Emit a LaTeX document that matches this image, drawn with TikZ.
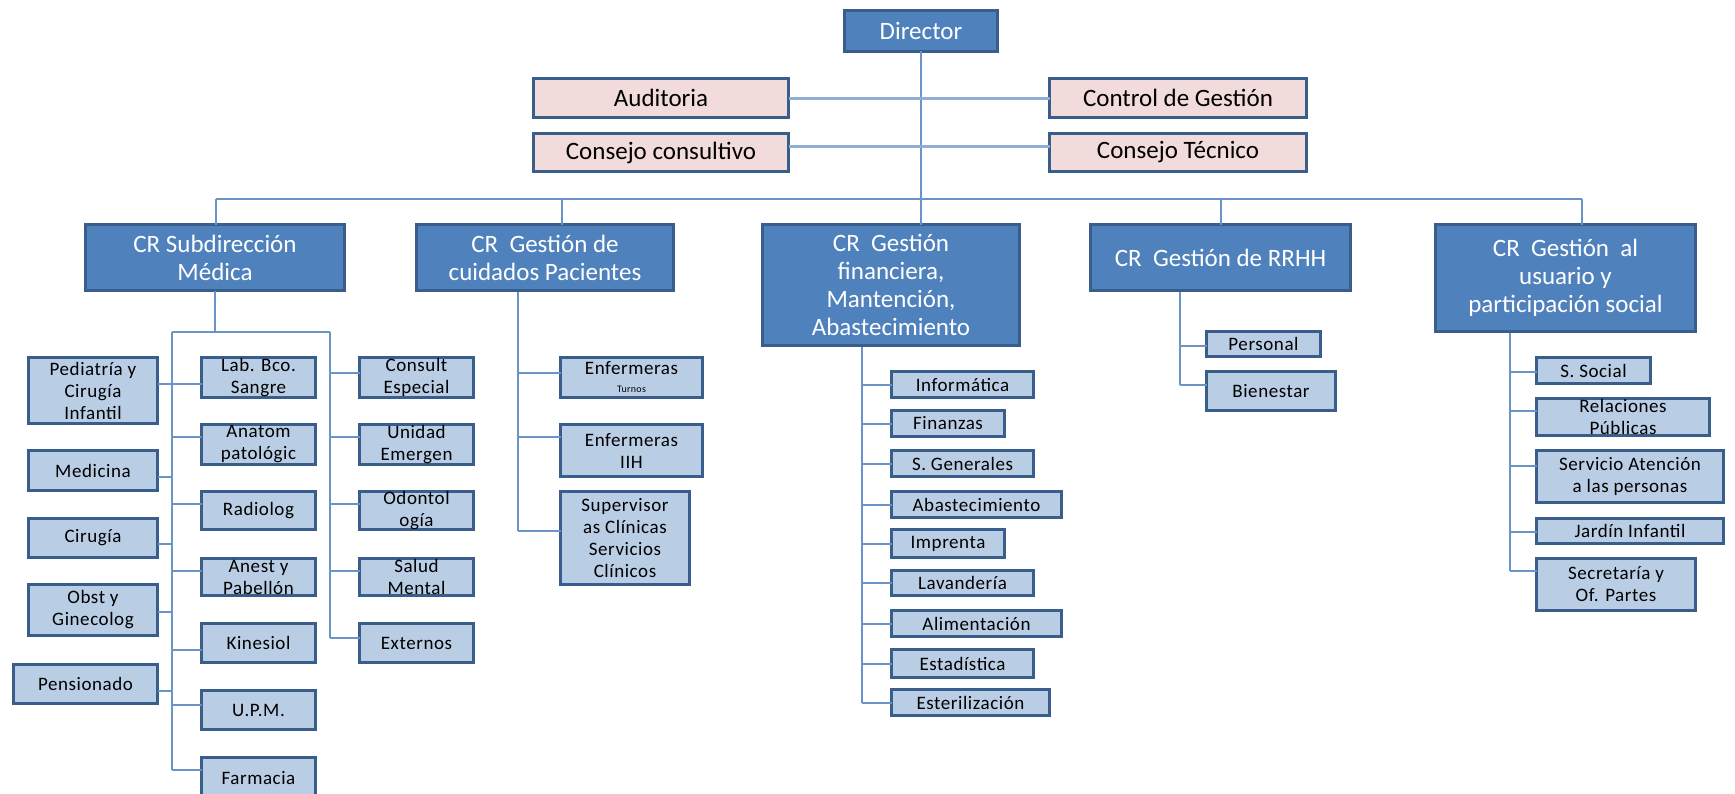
\documentclass[tikz,border=0pt]{standalone}
\usepackage{fontspec}
\setmainfont{Carlito}
\newfontfamily\unitfont{Carlito}[LetterSpace=3]
\definecolor{boxline}{HTML}{3A5E8C}
\definecolor{headfill}{HTML}{4F81BD}
\definecolor{unitfill}{HTML}{B9CDE5}
\definecolor{stafffill}{HTML}{F2DCDB}
\definecolor{linkc}{HTML}{6A93C8}
\tikzset{
  box/.style={draw=boxline, line width=3.5bp, inner sep=0pt, outer sep=0pt, align=center},
  head/.style={box, fill=headfill, text=white, font=\fontsize{25bp}{28bp}\selectfont},
  staff/.style={box, fill=stafffill, text=black, font=\fontsize{25bp}{28bp}\selectfont},
  unit/.style={box, fill=unitfill, text=black, font=\unitfont\fontsize{19bp}{22bp}\selectfont},
  link/.style={draw=linkc, line width=2bp},
  toplink/.style={draw=linkc!75, line width=3bp},
}
% box from its corners (x1,y1)-(x2,y2), measured downwards from the top left
\newcommand\bx[7]{\node[#1, minimum width={(#5-#3-3)*1bp}, minimum height={(#6-#4-3)*1bp}] (#2) at ({(#3+#5)/2},{(#4+#6)/2}) {#7};}
\begin{document}
\begin{tikzpicture}[x=1bp, y=-1bp]
\fill[white] (0,0) rectangle (1735,794);
\useasboundingbox (0,0) rectangle (1735,794);
\clip (0,0) rectangle (1735,794);

% top management
\bx{head}{dir}{843}{9}{999}{53}{Director}
\bx{staff}{aud}{532}{77}{790}{119}{Auditoria}
\bx{staff}{ctl}{1048}{77}{1308}{119}{Control de Gestión}
\bx{staff}{cc}{532}{132}{790}{173}{Consejo consultivo}
\bx{staff}{ct}{1048}{132}{1308}{173}{Consejo Técnico}

% responsibility centres
\bx{head}{sub}{84}{223}{346}{292}{CR Subdirección\\Médica}
\bx{head}{cui}{415}{223}{675}{292}{CR\ \ Gestión de\\cuidados Pacientes}
\bx{head}{fin}{761}{223}{1021}{347}{CR\ \ Gestión\\financiera,\\Mantención,\\Abastecimiento}
\bx{head}{rrh}{1089}{223}{1352}{292}{CR\ \ Gestión de RRHH}
\bx{head}{usu}{1434}{223}{1697}{333}{CR\ \ Gestión\ \ al\\usuario y\\participación social}

% medical units
\bx{unit}{ped}{27}{356}{159}{425}{Pediatría y\\Cirugía\\Infantil}
\bx{unit}{med}{27}{449}{159}{492}{Medicina}
\bx{unit}{cir}{27}{517}{159}{559}{Cirugía}
\bx{unit}{obs}{27}{583}{159}{637}{Obst y\\Ginecolog}
\bx{unit}{pen}{12}{663}{159}{705}{Pensionado}
\bx{unit}{lab}{200}{356}{317}{399}{Lab. Bco.\\Sangre}
\bx{unit}{ana}{200}{423}{317}{466}{Anatom\\patológic}
\bx{unit}{rad}{200}{490}{317}{531}{Radiolog}
\bx{unit}{anes}{200}{557}{317}{597}{Anest y\\Pabellón}
\bx{unit}{kin}{200}{622}{317}{664}{Kinesiol}
\bx{unit}{upm}{200}{689}{317}{731}{U.P.M.}
\bx{unit}{far}{200}{756}{317}{800}{Farmacia}
\bx{unit}{con}{358}{356}{475}{399}{Consult\\Especial}
\bx{unit}{uni}{358}{423}{475}{466}{Unidad\\Emergen}
\bx{unit}{odo}{358}{490}{475}{531}{Odontol\\ogía}
\bx{unit}{sal}{358}{557}{475}{597}{Salud\\Mental}
\bx{unit}{ext}{358}{622}{475}{664}{Externos}

% patient care
\bx{unit}{enf1}{559}{356}{704}{399}{Enfermeras\\[-4bp]{\fontsize{10bp}{12bp}\selectfont Turnos}}
\bx{unit}{enf2}{559}{423}{704}{478}{Enfermeras\\IIH}
\bx{unit}{sup}{559}{490}{691}{586}{Supervisor\\as Clínicas\\Servicios\\Clínicos}

% finance and supply
\bx{unit}{inf}{890}{370}{1035}{399}{Informática}
\bx{unit}{fnz}{890}{409}{1006}{438}{Finanzas}
\bx{unit}{sge}{890}{449}{1035}{478}{S. Generales}
\bx{unit}{aba}{890}{490}{1063}{519}{Abastecimiento}
\bx{unit}{imp}{890}{528}{1006}{559}{Imprenta}
\bx{unit}{lav}{890}{569}{1035}{597}{Lavandería}
\bx{unit}{ali}{890}{609}{1063}{638}{Alimentación}
\bx{unit}{est}{890}{648}{1035}{679}{Estadística}
\bx{unit}{ste}{890}{688}{1051}{717}{Esterilización}

% human resources
\bx{unit}{per}{1205}{330}{1322}{358}{Personal}
\bx{unit}{bie}{1205}{370}{1337}{412}{Bienestar}

% users and social participation
\bx{unit}{sso}{1535}{356}{1652}{385}{S. Social}
\bx{unit}{rpu}{1535}{397}{1711}{437}{Relaciones\\Públicas}
\bx{unit}{sat}{1535}{449}{1725}{504}{Servicio Atención\\a las personas}
\bx{unit}{jar}{1535}{517}{1725}{545}{Jardín Infantil}
\bx{unit}{sec}{1535}{557}{1697}{612}{Secretaría y\\Of. Partes}

% trunk, staff lines and main bus
\draw[link] (dir.south) -- (dir.south |- fin.north);
\draw[toplink] (aud) -- (ctl);
\draw[toplink] (cc.east |- 0,146) -- (ct.west |- 0,146);
\coordinate (b1) at (216,199);
\coordinate (b2) at (562,199);
\coordinate (b4) at (1221,199);
\coordinate (b5) at (1582,199);
\draw[link] (b1) -- (b5);
\foreach \p/\n in {b1/sub,b2/cui,b4/rrh,b5/usu} \draw[link] (\p) -- (\p |- \n.north);

% medical sub-direction branches
\coordinate (mL) at (172,332);
\coordinate (mR) at (330,332);
\draw[link] (sub.south) -- (sub.south |- mL);
\draw[link] (mL) -- (mR);
\draw[link] (mL) -- (mL |- 0,770);
\draw[link] (mR) -- (mR |- 0,638);
\draw[link] (ped.east |- 0,384) -- (lab.west |- 0,384);
\foreach \n/\y in {med/477,cir/544,obs/612,pen/691} \draw[link] (\n.east |- 0,\y) -- (mL |- 0,\y);
\foreach \n/\y in {ana/437,rad/504,anes/571,kin/650,upm/705,far/770} \draw[link] (mL |- 0,\y) -- (\n.west |- 0,\y);
\foreach \n/\y in {con/373,uni/437,odo/504,sal/571,ext/638} \draw[link] (mR |- 0,\y) -- (\n.west |- 0,\y);

% patient care branches
\coordinate (cS) at (518,292);
\draw[link] (cS) -- (cS |- 0,531);
\foreach \n/\y in {enf1/373,enf2/437,sup/531} \draw[link] (cS |- 0,\y) -- (\n.west |- 0,\y);

% finance branches
\coordinate (fS) at (862,347);
\draw[link] (fS) -- (fS |- ste.west);
\foreach \n in {inf,fnz,sge,aba,imp,lav,ali,est,ste} \draw[link] (fS |- \n.west) -- (\n.west);

% human resources branches
\coordinate (rS) at (1180,292);
\draw[link] (rS) -- (rS |- 0,385);
\foreach \n/\y in {per/346,bie/385} \draw[link] (rS |- 0,\y) -- (\n.west |- 0,\y);

% users branches
\coordinate (uS) at (1510,333);
\draw[link] (uS) -- (uS |- 0,571);
\foreach \n/\y in {sso/372,rpu/411,sat/466,jar/532,sec/571} \draw[link] (uS |- 0,\y) -- (\n.west |- 0,\y);
\end{tikzpicture}
\end{document}
